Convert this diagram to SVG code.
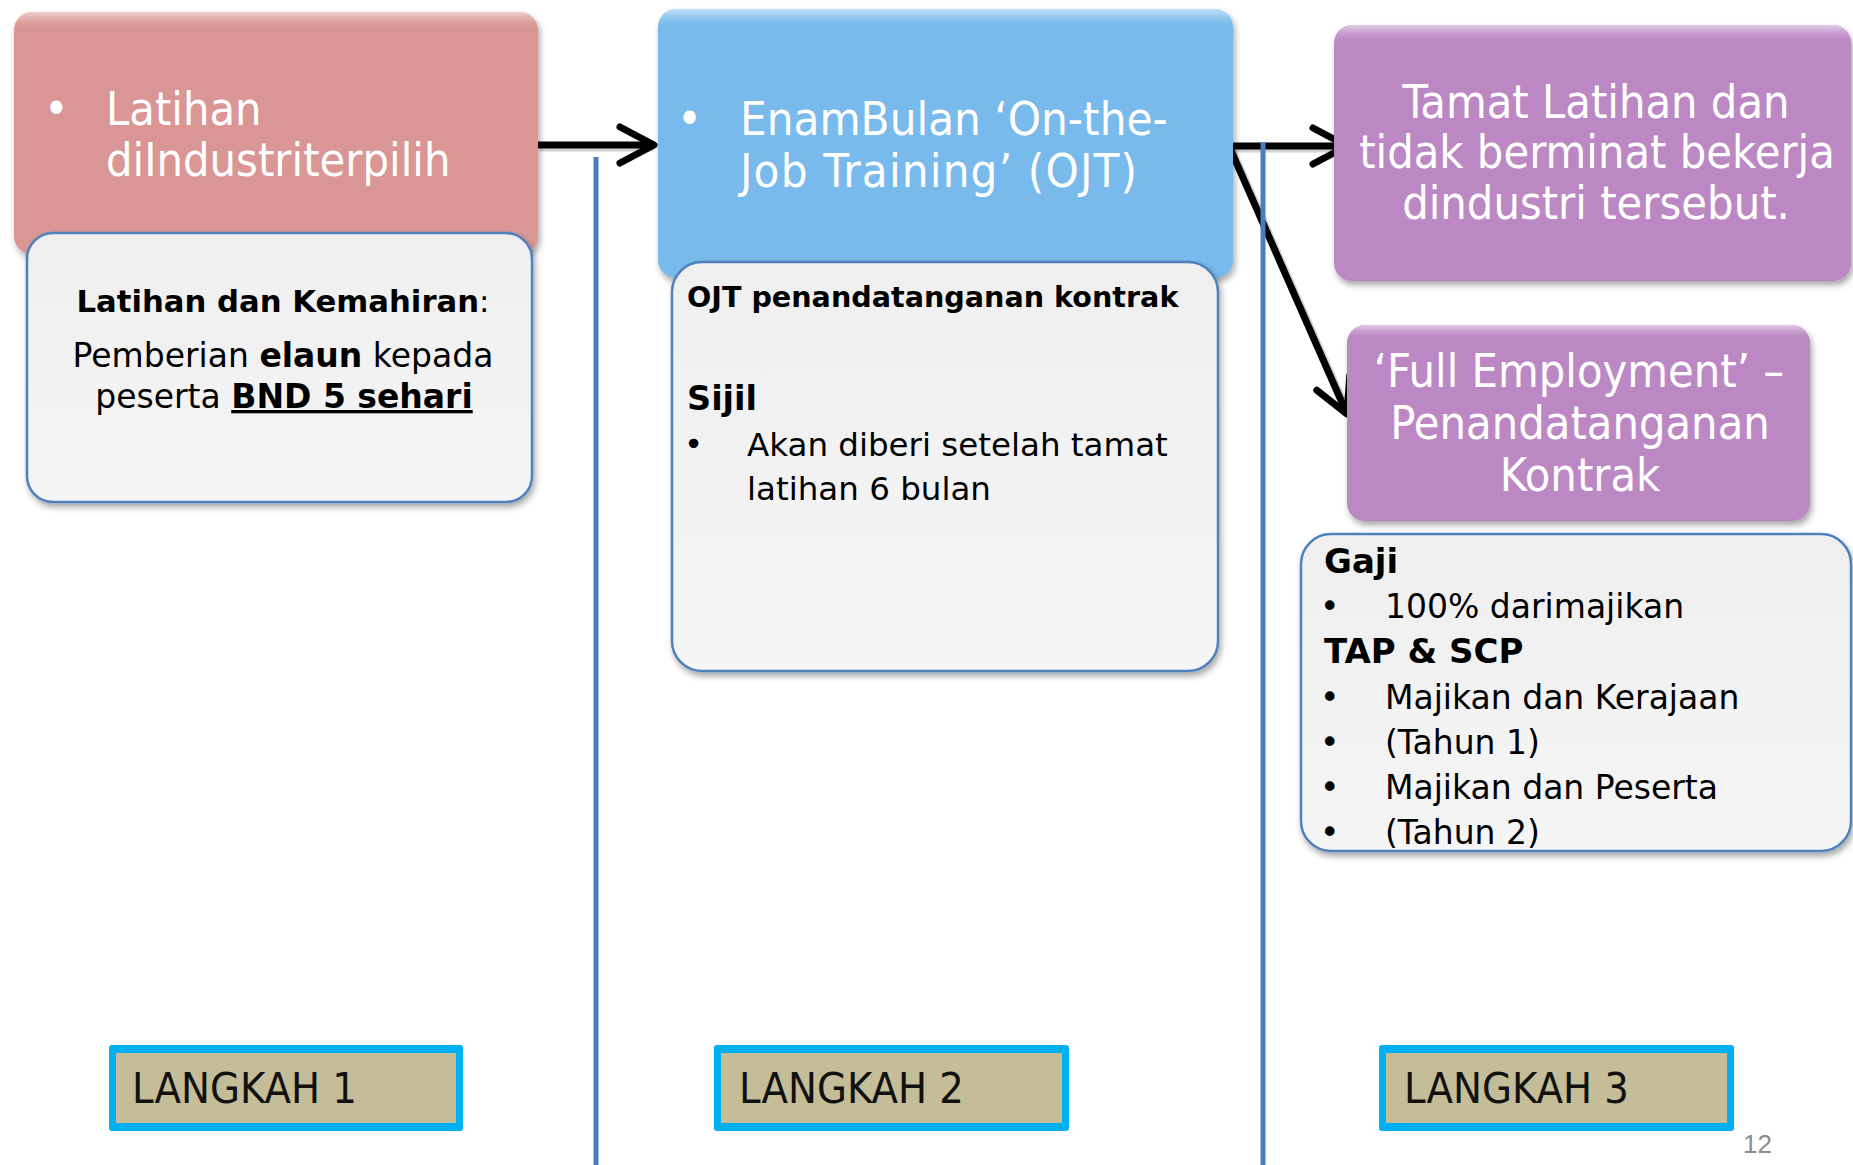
<svg xmlns="http://www.w3.org/2000/svg" width="1853" height="1165" viewBox="0 0 1853 1165">
<style>
.cond{font-family:"DejaVu Sans Condensed","DejaVu Sans",sans-serif;font-stretch:condensed;fill:#fff}
.wide{font-family:"DejaVu Sans",Verdana,sans-serif;fill:#000}
.b{font-weight:bold}
.wbox{fill:url(#wgrad);stroke:#4F81BD;stroke-width:2.5;filter:url(#sh)}
.gloss{fill:url(#gl)}
.conn{fill:none;stroke:#000;stroke-width:7;marker-end:url(#chev)}
.connsh{fill:none;stroke:#000;stroke-opacity:0.18;stroke-width:7}
.divider{stroke:#4A7EBB;stroke-width:5}
.lab-out{fill:#00B0F0}
.lab-in{fill:#C4BD97}
.lab{font-family:"DejaVu Sans Condensed","DejaVu Sans",sans-serif;font-stretch:condensed;font-size:43px;fill:#111}
</style>
<defs>
<filter id="sh" x="-10%" y="-10%" width="125%" height="130%">
<feDropShadow dx="2" dy="4" stdDeviation="3" flood-color="#000" flood-opacity="0.35"/>
</filter>
<linearGradient id="wgrad" x1="0" y1="0" x2="0" y2="1">
<stop offset="0" stop-color="#EFEFEF"/>
<stop offset="1" stop-color="#F5F5F5"/>
</linearGradient>
<linearGradient id="gl" x1="0" y1="0" x2="0" y2="1">
<stop offset="0" stop-color="#fff" stop-opacity="0.55"/>
<stop offset="0.035" stop-color="#fff" stop-opacity="0.15"/>
<stop offset="0.06" stop-color="#fff" stop-opacity="0"/>
</linearGradient>
<marker id="chev" markerUnits="userSpaceOnUse" markerWidth="60" markerHeight="60" viewBox="-45 -30 60 60" refX="0" refY="0" orient="auto" overflow="visible">
<path d="M-34,-18 L0,0 L-34,18" fill="none" stroke="#000" stroke-width="7" stroke-linecap="round" stroke-linejoin="round"/>
</marker>
</defs>

<g id="connectors">
<path class="connsh" d="M540,148 H654"/>
<path class="connsh" d="M1231,149 H1347"/>
<path class="connsh" d="M1232,149 L1348,412"/>
<path class="conn" d="M538,145 H654"/>
<path class="conn" d="M1229,146 H1347"/>
<path class="conn" d="M1229,146 L1347,414"/>
</g>

<g id="dividers">
<line class="divider" x1="596" y1="157" x2="596" y2="1165"/>
<line class="divider" x1="1263" y1="142" x2="1263" y2="1165"/>
</g>

<g id="node-latihan">
<rect x="14" y="12" width="524" height="242" rx="18" fill="#D99694" filter="url(#sh)"/>
<rect class="gloss" x="14" y="12" width="524" height="242" rx="18"/>
<text class="cond" font-size="46.5" x="44" y="125">•</text>
<text class="cond" font-size="46.5" x="106" y="125">Latihan</text>
<text class="cond" font-size="46.5" x="106" y="176">diIndustriterpilih</text>
</g>

<g id="info-latihan">
<rect class="wbox" x="27" y="233" width="505" height="269" rx="26"/>
<text class="wide" text-anchor="middle" x="283" y="312" font-size="30.7"><tspan class="b">Latihan dan Kemahiran</tspan>:</text>
<text class="wide" text-anchor="middle" x="283" y="367" font-size="33">Pemberian <tspan class="b">elaun</tspan> kepada</text>
<text class="wide" text-anchor="middle" x="284" y="408" font-size="33">peserta <tspan class="b" text-decoration="underline">BND 5 sehari</tspan></text>
</g>

<g id="node-ojt">
<rect x="658" y="9" width="575" height="269" rx="18" fill="#79BAEC" filter="url(#sh)"/>
<rect class="gloss" x="658" y="9" width="575" height="269" rx="18"/>
<text class="cond" font-size="47" x="677" y="135">•</text>
<text class="cond" font-size="47" x="740" y="135">EnamBulan ‘On-the-</text>
<text class="cond" font-size="47" x="740" y="187" textLength="397" lengthAdjust="spacing">Job Training’ (OJT)</text>
</g>

<g id="info-ojt">
<rect class="wbox" x="672" y="262" width="546" height="409" rx="30"/>
<text class="wide b" x="687" y="307" font-size="28.6">OJT penandatanganan kontrak</text>
<text class="wide b" x="687" y="410" font-size="33.5">Sijil</text>
<text class="wide" x="684" y="455" font-size="32.5">•</text>
<text class="wide" x="747" y="456" font-size="32.5">Akan diberi setelah tamat</text>
<text class="wide" x="747" y="500" font-size="32.5">latihan 6 bulan</text>
</g>

<g id="node-tamat">
<rect x="1334" y="25" width="517" height="256" rx="18" fill="#BC88C4" filter="url(#sh)"/>
<rect class="gloss" x="1334" y="25" width="517" height="256" rx="18"/>
<text class="cond" font-size="46.5" text-anchor="middle" x="1596" y="118">Tamat Latihan dan</text>
<text class="cond" font-size="46.5" text-anchor="middle" x="1597" y="168">tidak berminat bekerja</text>
<text class="cond" font-size="46.5" text-anchor="middle" x="1596" y="219">dindustri tersebut.</text>
</g>

<g id="node-full">
<rect x="1347" y="325" width="463" height="196" rx="18" fill="#BC88C4" filter="url(#sh)"/>
<rect class="gloss" x="1347" y="325" width="463" height="196" rx="18"/>
<text class="cond" font-size="46.5" text-anchor="middle" x="1579" y="387">‘Full Employment’ –</text>
<text class="cond" font-size="46.5" text-anchor="middle" x="1580" y="439">Penandatanganan</text>
<text class="cond" font-size="46.5" text-anchor="middle" x="1580" y="491">Kontrak</text>
</g>

<g id="info-full">
<rect class="wbox" x="1301" y="534" width="550" height="317" rx="30"/>
<text class="wide b" x="1324" y="573" font-size="34">Gaji</text>
<text class="wide" x="1320" y="618" font-size="33">•</text>
<text class="wide" x="1385" y="618" font-size="33">100% darimajikan</text>
<text class="wide b" x="1324" y="663" font-size="34">TAP &amp; SCP</text>
<text class="wide" x="1320" y="709" font-size="33">•</text>
<text class="wide" x="1385" y="709" font-size="33">Majikan dan Kerajaan</text>
<text class="wide" x="1320" y="754" font-size="33">•</text>
<text class="wide" x="1385" y="754" font-size="33">(Tahun 1)</text>
<text class="wide" x="1320" y="799" font-size="33">•</text>
<text class="wide" x="1385" y="799" font-size="33">Majikan dan Peserta</text>
<text class="wide" x="1320" y="844" font-size="33">•</text>
<text class="wide" x="1385" y="844" font-size="33">(Tahun 2)</text>
</g>

<g id="langkah-1">
<rect class="lab-out" x="109" y="1045" width="354" height="86" rx="3"/>
<rect class="lab-in" x="116" y="1053" width="340" height="70"/>
<text class="lab" x="132" y="1103">LANGKAH 1</text>
</g>
<g id="langkah-2">
<rect class="lab-out" x="714" y="1045" width="355" height="86" rx="3"/>
<rect class="lab-in" x="721" y="1053" width="341" height="70"/>
<text class="lab" x="739" y="1103">LANGKAH 2</text>
</g>
<g id="langkah-3">
<rect class="lab-out" x="1379" y="1045" width="355" height="86" rx="3"/>
<rect class="lab-in" x="1386" y="1053" width="341" height="70"/>
<text class="lab" x="1404" y="1103">LANGKAH 3</text>
</g>

<text x="1743" y="1153" font-family="Liberation Sans, Arial, sans-serif" font-size="26" fill="#8C8C8C">12</text>
</svg>
